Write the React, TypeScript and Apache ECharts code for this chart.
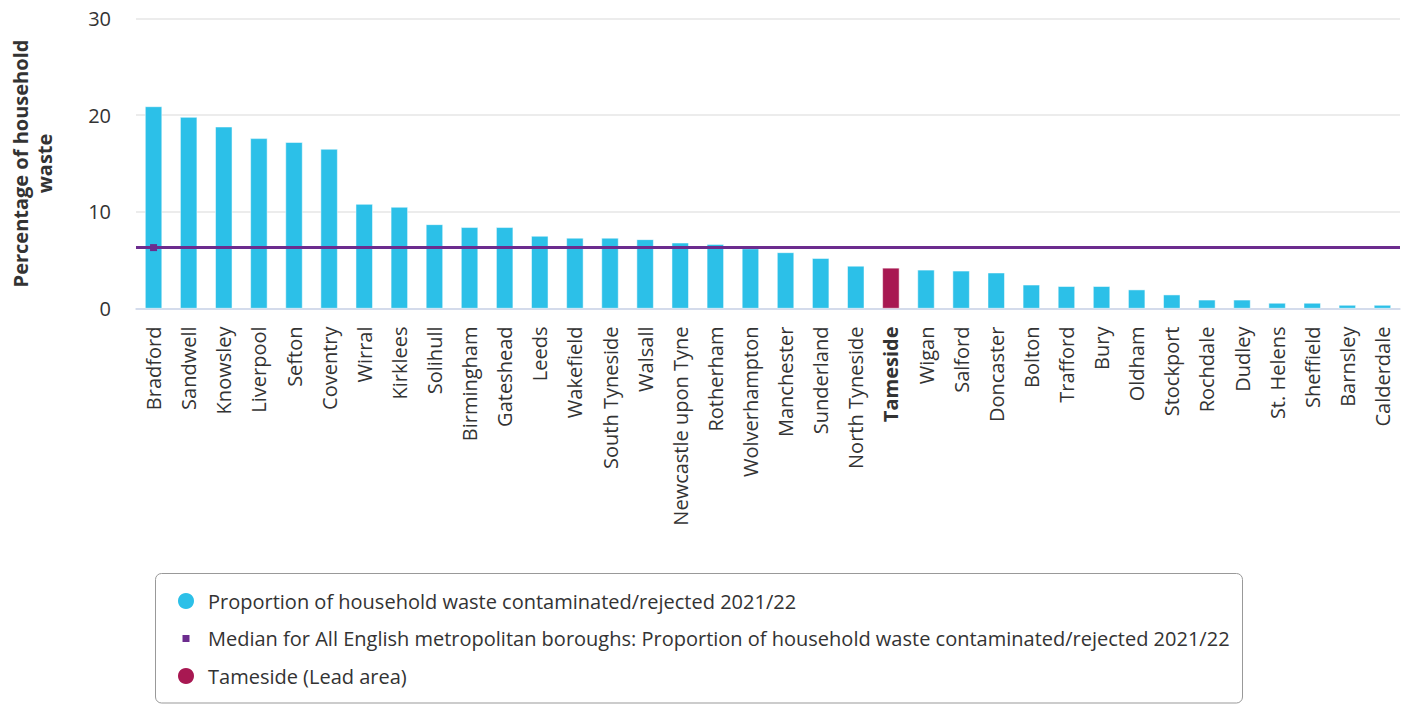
import React, { useEffect, useRef } from "react";
import * as echarts from "echarts";

const categories = [
  "Bradford", "Sandwell", "Knowsley", "Liverpool", "Sefton", "Coventry", "Wirral", "Kirklees",
  "Solihull", "Birmingham", "Gateshead", "Leeds", "Wakefield", "South Tyneside", "Walsall",
  "Newcastle upon Tyne", "Rotherham", "Wolverhampton", "Manchester", "Sunderland", "North Tyneside",
  "Tameside", "Wigan", "Salford", "Doncaster", "Bolton", "Trafford", "Bury", "Oldham", "Stockport",
  "Rochdale", "Dudley", "St. Helens", "Sheffield", "Barnsley", "Calderdale",
];
const values = [
  20.9, 19.8, 18.8, 17.6, 17.2, 16.5, 10.8, 10.5,
  8.7, 8.4, 8.4, 7.5, 7.3, 7.3, 7.15,
  6.8, 6.65, 6.2, 5.8, 5.2, 4.4,
  4.2, 4.0, 3.9, 3.7, 2.45, 2.3, 2.3, 1.95, 1.43,
  0.9, 0.9, 0.57, 0.57, 0.36, 0.36,
];
const medianValue = 6.3;
const leadArea = "Tameside";
const yMin = 0;
const yMax = 30;
const yInterval = 10;

const seriesMain = "Proportion of household waste contaminated/rejected 2021/22";
const seriesMedian =
  "Median for All English metropolitan boroughs: Proportion of household waste contaminated/rejected 2021/22";
const seriesLead = "Tameside (Lead area)";
const yAxisTitle = "Percentage of household\nwaste";

const FONT = "'Open Sans', 'Noto Sans', sans-serif";
const FS = 20;
const CYAN = "#2cc0e8";
const PURPLE = "#6c2c8e";
const CRIMSON = "#a81852";

export default function App() {
  const ref = useRef<HTMLDivElement>(null);
  useEffect(() => {
    if (!ref.current) return;
    const chart = echarts.init(ref.current, undefined, { renderer: "svg" });
    const mainData = values.map((v, i) => (categories[i] === leadArea ? null : v));
    const leadData = values.map((v, i) => (categories[i] === leadArea ? v : null));
    chart.setOption({
      animation: false,
      textStyle: { fontFamily: FONT },
      grid: { left: 134, right: 7, top: 18.5, bottom: 395.5, containLabel: false },
      graphic: [
        {
          type: "rect",
          x: 155.5,
          y: 573.5,
          shape: { x: 0, y: 0, width: 1087, height: 129.5, r: 6 },
          style: { fill: "none", stroke: "#999", lineWidth: 1 },
          silent: true,
        },
      ],
      xAxis: {
        type: "category",
        data: categories,
        axisLine: { lineStyle: { color: "#ccd6eb", width: 1.5 } },
        axisTick: { show: false },
        axisLabel: {
          interval: 0,
          rotate: 90,
          margin: 18,
          fontSize: FS,
          color: "#333",
          fontFamily: FONT,
          formatter: (v: string) => (v === leadArea ? `{b|${v}}` : v),
          rich: { b: { fontWeight: "bold", fontSize: FS, color: "#333", fontFamily: FONT } },
        },
      },
      yAxis: {
        type: "value",
        min: yMin,
        max: yMax,
        interval: yInterval,
        name: yAxisTitle,
        nameLocation: "middle",
        nameGap: 80,
        nameRotate: 90,
        nameTextStyle: { fontSize: FS, fontWeight: "bold", color: "#333", fontFamily: FONT, lineHeight: 24 },
        axisLine: { show: false },
        axisTick: { show: false },
        axisLabel: { fontSize: FS, color: "#333", margin: 25, fontFamily: FONT },
        splitLine: { lineStyle: { color: "#e6e6e6", width: 1.5 } },
      },
      legend: {
        orient: "vertical",
        left: 176,
        top: 591,
        padding: 0,
        itemWidth: 18,
        itemHeight: 18,
        itemGap: 17.5,
        selectedMode: false,
        textStyle: { fontSize: FS, color: "#333", fontFamily: FONT, padding: [0, 0, 0, 8] },
        data: [
          { name: seriesMain, icon: "circle" },
          { name: seriesMedian, icon: "path://M0 0M18 18M5.5 5.5h7v7h-7z" },
          { name: seriesLead, icon: "circle" },
        ],
      },
      series: [
        {
          name: seriesMain,
          type: "bar",
          stack: "all",
          data: mainData,
          barWidth: 17,
          itemStyle: { color: CYAN, borderColor: "#ffffff", borderWidth: 0.5 },
        },
        {
          name: seriesLead,
          type: "bar",
          stack: "all",
          data: leadData,
          barWidth: 17,
          itemStyle: { color: CRIMSON, borderColor: "#ffffff", borderWidth: 0.5 },
        },
        {
          name: seriesMedian,
          type: "line",
          data: [medianValue],
          symbol: "rect",
          symbolSize: 7,
          itemStyle: { color: PURPLE },
          lineStyle: { color: PURPLE, width: 3 },
          z: 5,
          markLine: {
            silent: true,
            symbol: "none",
            label: { show: false },
            lineStyle: { color: PURPLE, width: 3, type: "solid" },
            data: [{ yAxis: medianValue }],
            z: 4,
          },
        },
      ],
    });
    return () => chart.dispose();
  }, []);
  return (
    <div
      ref={ref}
      style={{ position: "fixed", left: 0, top: 0, width: 1407, height: 704, background: "#fff" }}
    />
  );
}
